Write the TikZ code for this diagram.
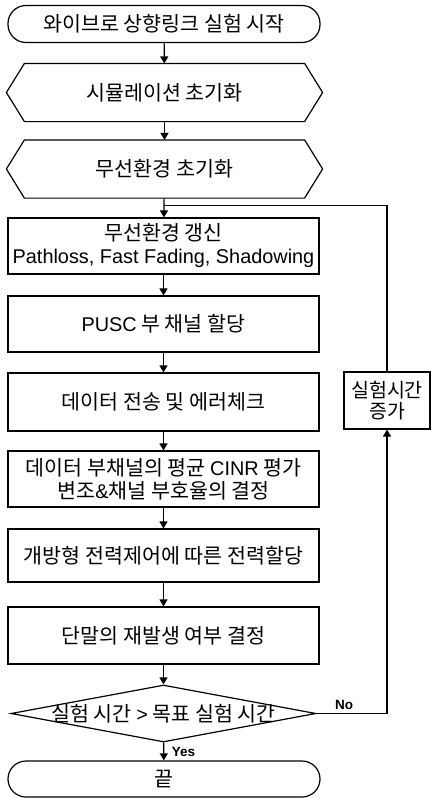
\documentclass[tikz,border=0pt]{standalone}
\usepackage{fontspec}
\setmainfont{Noto Sans CJK KR}
\newfontfamily\lat[Scale=0.965]{Liberation Sans}
\newfontfamily\latb[Scale=1]{Liberation Sans}
\usetikzlibrary{shapes.geometric,arrows.meta}
\begin{document}
\begin{tikzpicture}[x=1pt,y=-1pt, line width=1.2pt,
 every node/.style={font=\fontsize{20.6}{23}\selectfont, inner sep=0pt, align=center},
 term/.style={draw, rounded corners=18pt, minimum width=312pt, minimum height=37pt},
 proc/.style={draw, rectangle, minimum width=311pt, minimum height=56pt},
 hexbox/.style={minimum width=279pt, minimum height=57pt},
 decis/.style={draw, diamond, minimum width=305pt, minimum height=57pt},
 lbl/.style={font=\latb\bfseries\fontsize{13.5}{15}\selectfont},
 arr/.style={-{Triangle[length=7pt,width=8pt]}}]
\useasboundingbox (0,0) rectangle (431,798);

\node[term] (start) at (164,24) {와이브로 상향링크 실험 시작};
\node[hexbox] (h1) at (164.5,92.5) {시뮬레이션 초기화};
\node[hexbox] (h2) at (164.5,169) {무선환경 초기화};
\foreach \n in {h1,h2}
  \draw (\n.north west) -- (\n.north east) -- ([xshift=18pt]\n.east) -- (\n.south east)
        -- (\n.south west) -- ([xshift=-18pt]\n.west) -- cycle;
\node[proc] (r1) at (163.5,246) {무선환경 갱신\\{\lat Pathloss, Fast Fading, Shadowing}};
\node[proc] (r2) at (163.5,324) {{\lat PUSC} 부 채널 할당};
\node[proc, minimum height=58pt] (r3) at (163.5,402) {데이터 전송 및 에러체크};
\node[proc] (r4) at (163.5,479) {데이터 부채널의 평균 {\lat CINR} 평가\\변조{\lat\&}채널 부호율의 결정};
\node[proc, minimum height=53pt] (r5) at (163.5,555.5) {개방형 전력제어에 따른 전력할당};
\node[proc, minimum height=57pt] (r6) at (163.5,635.5) {단말의 재발생 여부 결정};
\node[decis] (dec) at (163.5,713.5) {\makebox[0pt]{실험 시간 {\lat >} 목표 실험 시간}};
\node[term, minimum height=36pt] (end) at (164,779) {끝};
\node[draw, minimum width=86pt, minimum height=57pt, font=\fontsize{19.5}{20.5}\selectfont] (inc) at (387,400.5) {실험시간\\증가};

\coordinate (loopjoin) at ([yshift=12pt]r1.north);

\draw[arr] (start) -- (h1);
\draw[arr] (h1) -- (h2);
\draw[arr] (h2) -- (r1);
\draw[arr] (r1) -- (r2);
\draw[arr] (r2) -- (r3);
\draw[arr] (r3) -- (r4);
\draw[arr] (r4) -- (r5);
\draw[arr] (r5) -- (r6);
\draw[arr] (r6) -- (dec);
\draw[arr] (dec) -- (end);
\draw[arr] (dec.east) -- (dec.east -| inc.south) -- (inc.south);
\draw (inc.north) |- (loopjoin);

\node[lbl] (nolbl) at (344,704.5) {No};
\node[lbl] (yeslbl) at (183.5,752) {Yes};
\end{tikzpicture}
\end{document}
